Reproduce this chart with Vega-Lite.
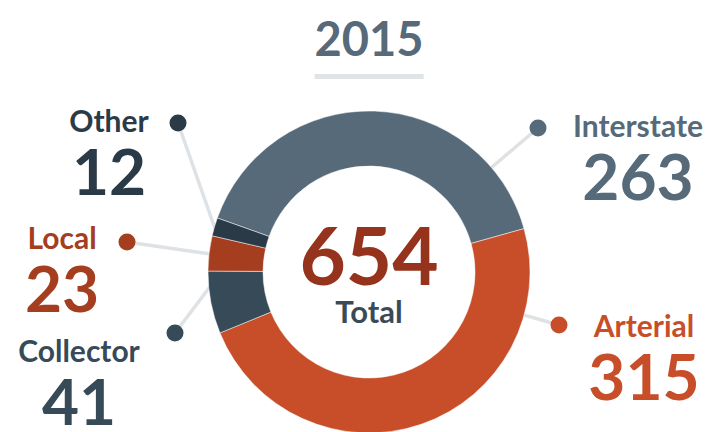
{
  "$schema": "https://vega.github.io/schema/vega-lite/v6.json",
  "width": 696,
  "height": 320,
  "autosize": {"type": "none"},
  "padding": {"left": 21, "top": 112, "right": 0, "bottom": 0},
  "background": "white",
  "title": {
    "text": "2015",
    "subtitle": "━━━━━━",
    "font": "Lato",
    "fontSize": 47,
    "fontWeight": "bold",
    "color": "#566a7a",
    "subtitleFont": "DejaVu Sans",
    "subtitleFontSize": 30,
    "subtitleColor": "#e1e4e7",
    "anchor": "middle",
    "offset": 14,
    "subtitlePadding": -3
  },
  "config": {"view": {"stroke": null}},
  "datasets": {
    "slices": [
      {"name": "Interstate", "value": 263, "order": 1},
      {"name": "Arterial", "value": 315, "order": 2},
      {"name": "Collector", "value": 41, "order": 3},
      {"name": "Local", "value": 23, "order": 4},
      {"name": "Other", "value": 12, "order": 5}
    ],
    "labels": [
      {"name": "Interstate", "value": 263, "dotX": 169, "dotY": -144, "endX": 103, "endY": -88, "textX": 269, "textY": -135},
      {"name": "Arterial", "value": 315, "dotX": 190, "dotY": 53, "endX": 130, "endY": 36, "textX": 275, "textY": 65},
      {"name": "Collector", "value": 41, "dotX": -194, "dotY": 61, "endX": -154, "endY": 8, "textX": -290, "textY": 90},
      {"name": "Local", "value": 23, "dotX": -242, "dotY": -30, "endX": -138, "endY": -15, "textX": -307, "textY": -23},
      {"name": "Other", "value": 12, "dotX": -191, "dotY": -149, "endX": -149, "endY": -29, "textX": -260, "textY": -140}
    ],
    "center": [{"label": "Total"}]
  },
  "layer": [
    {
      "data": {"name": "labels"},
      "mark": {"type": "rule", "color": "#dfe2e5", "strokeWidth": 3.5},
      "encoding": {
        "x": {"field": "dotX", "type": "quantitative", "scale": {"domain": [-348, 348], "nice": false, "zero": false}, "axis": null},
        "y": {"field": "dotY", "type": "quantitative", "scale": {"domain": [-160, 160], "nice": false, "zero": false, "reverse": true}, "axis": null},
        "x2": {"field": "endX"},
        "y2": {"field": "endY"}
      }
    },
    {
      "data": {"name": "slices"},
      "mark": {"type": "arc", "innerRadius": 106, "outerRadius": 161, "stroke": "#ffffff", "strokeWidth": 0.5},
      "encoding": {
        "theta": {"field": "value", "type": "quantitative", "stack": true, "scale": {"range": [-1.2287, 5.0545]}},
        "order": {"field": "order", "type": "quantitative"},
        "color": {
          "field": "name",
          "type": "nominal",
          "scale": {
            "domain": ["Interstate", "Arterial", "Collector", "Local", "Other"],
            "range": ["#566a7a", "#c84e2a", "#364a58", "#a53d1f", "#2a3a46"]
          },
          "legend": null
        }
      }
    },
    {
      "data": {"name": "labels"},
      "mark": {"type": "point", "filled": true, "size": 290, "opacity": 1},
      "encoding": {
        "x": {"field": "dotX", "type": "quantitative"},
        "y": {"field": "dotY", "type": "quantitative"},
        "color": {"field": "name", "type": "nominal"}
      }
    },
    {
      "data": {"name": "labels"},
      "mark": {"type": "text", "font": "Lato", "fontSize": 30, "fontWeight": "bold", "align": "center", "baseline": "alphabetic"},
      "encoding": {
        "x": {"field": "textX", "type": "quantitative"},
        "y": {"field": "textY", "type": "quantitative"},
        "text": {"field": "name", "type": "nominal"},
        "color": {"field": "name", "type": "nominal"}
      }
    },
    {
      "data": {"name": "labels"},
      "mark": {"type": "text", "font": "Lato", "fontSize": 64, "fontWeight": "bold", "align": "center", "baseline": "alphabetic", "dy": 63},
      "encoding": {
        "x": {"field": "textX", "type": "quantitative"},
        "y": {"field": "textY", "type": "quantitative"},
        "text": {"field": "value", "type": "quantitative"},
        "color": {"field": "name", "type": "nominal"}
      }
    },
    {
      "data": {"name": "slices"},
      "mark": {"type": "text", "font": "Lato", "fontSize": 80, "fontWeight": "bold", "align": "center", "baseline": "alphabetic", "dy": 13, "color": "#95331c"},
      "encoding": {
        "text": {"aggregate": "sum", "field": "value", "type": "quantitative"}
      }
    },
    {
      "data": {"name": "center"},
      "mark": {"type": "text", "font": "Lato", "fontSize": 31, "fontWeight": "bold", "align": "center", "baseline": "alphabetic", "dy": 51, "color": "#3a4a57"},
      "encoding": {
        "text": {"field": "label", "type": "nominal"}
      }
    }
  ]
}
